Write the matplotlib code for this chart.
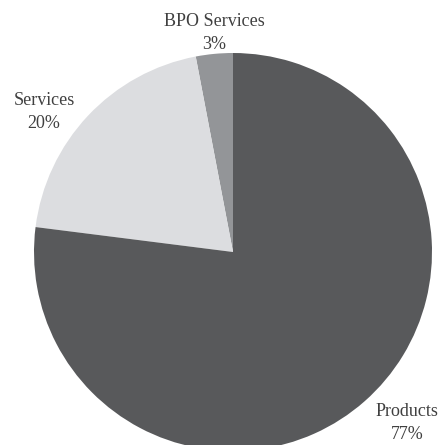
import matplotlib
matplotlib.use("Agg")
import matplotlib.pyplot as plt

categories = ["BPO Services", "Services", "Products"]
shares = [3, 20, 77]
colors = ["#939598", "#dcdde0", "#58595b"]

fig = plt.figure(figsize=(4.41, 4.45), dpi=100)
ax = fig.add_axes([0, 0, 1, 1])

ax.pie(shares, colors=colors, startangle=90, counterclock=True,
       center=(233, 193), radius=199, frame=True,
       wedgeprops=dict(linewidth=0))
ax.set_xlim(0, 441)
ax.set_ylim(0, 445)
ax.set_aspect("equal")
ax.axis("off")

label_pos = [(214, 412), (44, 333), (407, 22)]
for cat, val, (x, y) in zip(categories, shares, label_pos):
    ax.text(x, y, f"{cat}\n{val}%", ha="center", va="center",
            fontsize=13, family="Liberation Serif", color="#404040",
            linespacing=1.42)

fig.savefig("out.png", dpi=100)
